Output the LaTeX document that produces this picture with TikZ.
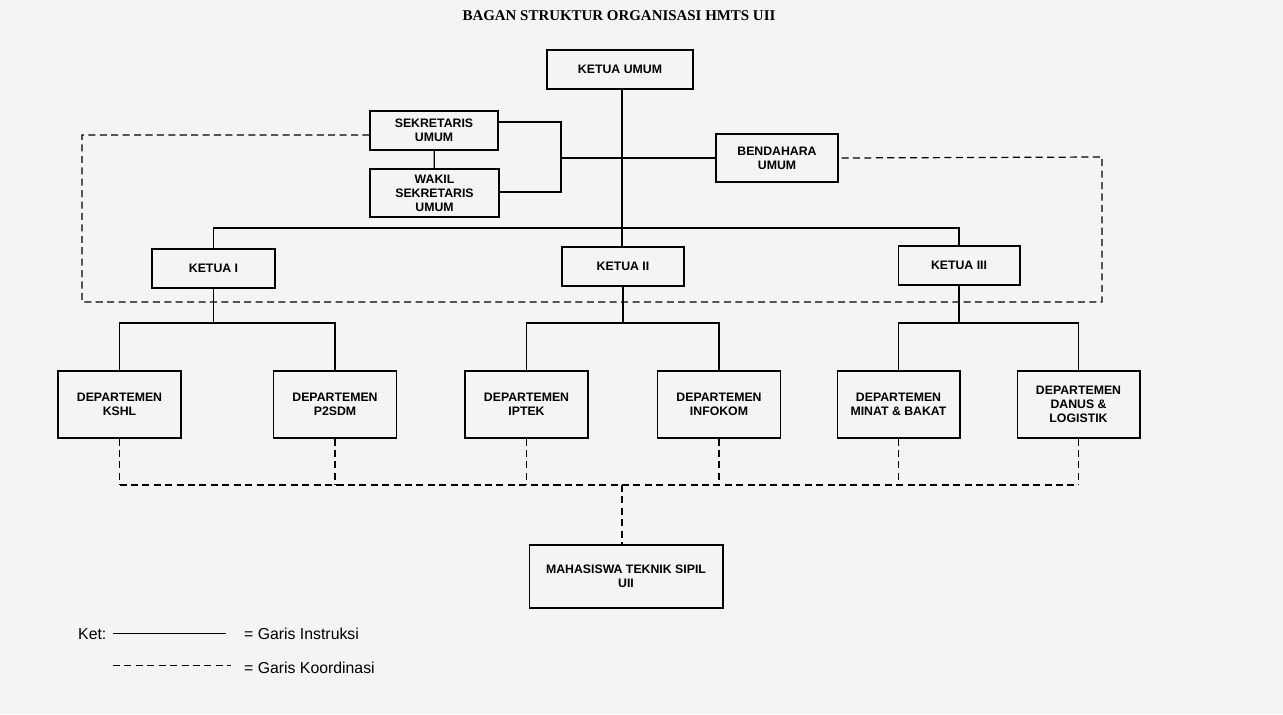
\documentclass[tikz,border=0pt]{standalone}
\usepackage{fontspec}
\setmainfont{Liberation Sans}
\newfontfamily\titlefont{Liberation Serif}
\usetikzlibrary{positioning}
\definecolor{paper}{HTML}{F4F4F4}
\tikzset{
  unit/.style={draw, line width=0.6pt, minimum height=0.78cm, align=center,
    font=\fontsize{7}{8}\selectfont\bfseries, inner sep=1pt},
  instr/.style={line width=0.7pt},
  koord/.style={line width=0.7pt, dash pattern=on 4pt off 2.5pt}
}
\begin{document}
\begin{tikzpicture}[x=0.02cm, y=-0.02cm]
\fill[paper] (0,0) rectangle (1283,714);
\useasboundingbox (0,0) rectangle (1283,714);
\node[font=\titlefont\fontsize{8.5}{10}\selectfont\bfseries] at (619,16) {BAGAN STRUKTUR ORGANISASI HMTS UII};
% pengurus inti
\node[unit, minimum width=2.92cm] (ku) at (620,69.5) {KETUA UMUM};
\node[unit, minimum width=2.56cm] (sek) at (434,130.5) {SEKRETARIS\\UMUM};
\node[unit, minimum width=2.58cm, minimum height=0.96cm] (wsek) at (434.5,193) {WAKIL\\SEKRETARIS\\UMUM};
\node[unit, minimum width=2.44cm, minimum height=0.96cm] (bend) at (777,158) {BENDAHARA\\UMUM};
\node[unit, minimum width=2.46cm] (k1) at (213.5,268.5) {KETUA I};
\node[unit, minimum width=2.44cm] (k2) at (623,266.5) {KETUA II};
\node[unit, minimum width=2.44cm] (k3) at (959,265.5) {KETUA III};
% departemen
\foreach \nm/\x/\txt in {kshl/119.5/DEPARTEMEN\\KSHL, p2sdm/335/DEPARTEMEN\\P2SDM,
  iptek/526.5/DEPARTEMEN\\IPTEK, infokom/719/DEPARTEMEN\\INFOKOM,
  minat/898.5/DEPARTEMEN\\MINAT \& BAKAT, danus/1078.5/DEPARTEMEN\\DANUS \&\\LOGISTIK}
  \node[unit, minimum width=2.46cm, minimum height=1.34cm] (\nm) at (\x,404.5) {\txt};
\node[unit, minimum width=3.88cm, minimum height=1.26cm] (mhs) at (626,576.5) {MAHASISWA TEKNIK SIPIL\\UII};
% garis instruksi
\coordinate (br) at (561,158);
\draw[instr] (ku.south -| 622,0) -- (k2.north -| 622,0);
\draw[instr] (sek.east |- 0,122) -| (br) |- (wsek.east |- 0,192);
\draw[instr] (br) -- (bend.west);
\draw[instr] (sek) -- (wsek);
\draw[instr] (k1.north) |- (622,228) -| (k3.north);
\foreach \k/\a/\b in {k1/kshl/p2sdm, k2/iptek/infokom, k3/minat/danus}{
  \draw[instr] (\k.south) -- (\k.south |- 0,323);
  \draw[instr] (\a.north) |- (\k.south |- 0,323) -| (\b.north);
}
% garis koordinasi
\draw[koord] (sek.west |- 0,135) -| (82,302) -| (1102,157) -- (bend.east);
\foreach \d in {kshl,p2sdm,iptek,infokom,minat,danus}
  \draw[koord] (\d.south) -- (\d.south |- 0,485);
\draw[koord] (kshl.south |- 0,485) -- (danus.south |- 0,485);
\draw[koord] (622,485) -- (mhs.north -| 622,0);
% keterangan
\node[anchor=west, font=\fontsize{9}{10}\selectfont] (ket) at (72,634) {Ket:};
\coordinate (i1) at (113,633); \coordinate (i2) at (226,633);
\coordinate (c1) at (113,665); \coordinate (c2) at (231,665);
\draw[instr, thin] (i1) -- (i2);
\draw[koord, thin] (c1) -- (c2);
\node[anchor=west, font=\fontsize{9}{10}\selectfont] (li) at (238,634) {= Garis Instruksi};
\node[anchor=west, font=\fontsize{9}{10}\selectfont] (lk) at (238,668) {= Garis Koordinasi};
\end{tikzpicture}
\end{document}
